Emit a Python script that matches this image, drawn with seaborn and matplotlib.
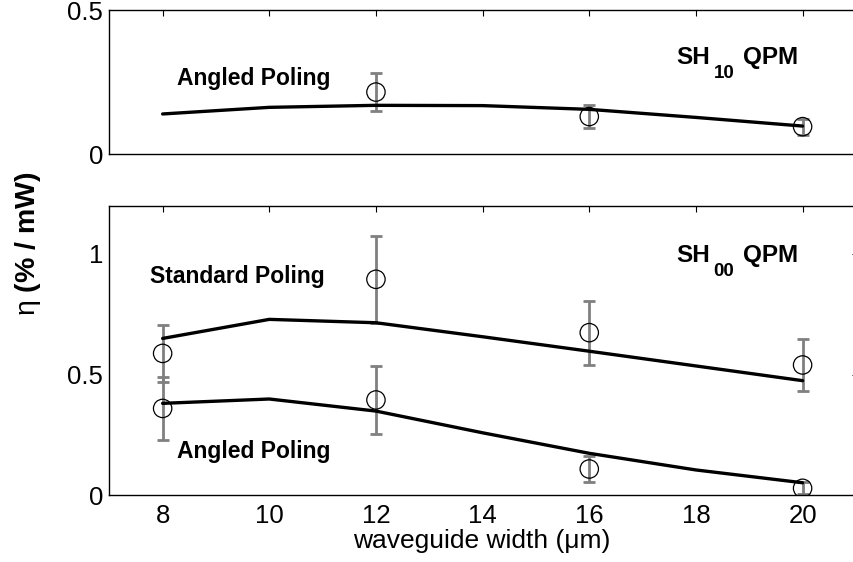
import matplotlib
matplotlib.use("Agg")
import matplotlib.pyplot as plt
import matplotlib.transforms as mtransforms
import seaborn as sns

# waveguide widths (um)
widths_model = [8, 10, 12, 14, 16, 18, 20]

# SH10 mode, angled poling
sh10_model = [0.139, 0.162, 0.169, 0.168, 0.155, 0.127, 0.097]
sh10_meas_x = [12, 16, 20]
sh10_meas = [0.215, 0.130, 0.095]
sh10_err = [0.066, 0.039, 0.028]

# SH00 mode, standard poling
std_model = [0.650, 0.729, 0.715, 0.657, 0.597, 0.536, 0.475]
std_meas_x = [8, 12, 16, 20]
std_meas = [0.588, 0.895, 0.674, 0.540]
std_err = [0.118, 0.180, 0.133, 0.108]

# SH00 mode, angled poling
ang_model = [0.381, 0.399, 0.349, 0.259, 0.174, 0.105, 0.052]
ang_meas_x = [8, 12, 16, 20]
ang_meas = [0.360, 0.395, 0.109, 0.029]
ang_err = [0.130, 0.140, 0.053, 0.025]

xticks = [8, 10, 12, 14, 16, 18, 20]

sns.set_style("white")
plt.rcParams["font.family"] = ["Liberation Sans", "DejaVu Sans"]
plt.rcParams["mathtext.fontset"] = "custom"
plt.rcParams["mathtext.rm"] = "Liberation Sans"
plt.rcParams["mathtext.it"] = "Liberation Sans:italic"
plt.rcParams["mathtext.bf"] = "Liberation Sans:bold"
plt.rcParams["text.color"] = "black"
plt.rcParams["axes.labelcolor"] = "black"
plt.rcParams["xtick.color"] = "black"
plt.rcParams["ytick.color"] = "black"

W, H = 854, 562
X_LEFT_PX, X_RIGHT_PX = 109.3, 858.0
fig = plt.figure(figsize=(W / 100, H / 100), dpi=100)
fig.patch.set_facecolor("white")

ax_w = (X_RIGHT_PX - X_LEFT_PX) / W
ax_top = fig.add_axes([X_LEFT_PX / W, 1 - 154 / H, ax_w, 144 / H])
ax_bot = fig.add_axes([X_LEFT_PX / W, 1 - 495.3 / H, ax_w, 289.6 / H])

ERR_COLOR = "#808080"


def draw_series(ax, model, mx, my, me):
    sns.lineplot(x=widths_model, y=model, ax=ax, color="black", lw=2.4,
                 zorder=3, legend=False)
    ax.errorbar(mx, my, yerr=me, fmt="none", ecolor=ERR_COLOR,
                elinewidth=2.0, capsize=4.6, capthick=2.0, zorder=2)
    sns.scatterplot(x=mx, y=my, ax=ax, marker="o", s=175,
                    facecolor="none", edgecolor="black", linewidth=0.9,
                    zorder=4, legend=False)


draw_series(ax_top, sh10_model, sh10_meas_x, sh10_meas, sh10_err)
draw_series(ax_bot, std_model, std_meas_x, std_meas, std_err)
draw_series(ax_bot, ang_model, ang_meas_x, ang_meas, ang_err)

x_max = 7 + (X_RIGHT_PX - X_LEFT_PX) / 53.33
for ax in (ax_top, ax_bot):
    ax.set_xlim(7, x_max)
    ax.set_xticks(xticks)
    for s in ax.spines.values():
        s.set_visible(True)
        s.set_color("black")
        s.set_linewidth(1.0)
    ax.tick_params(direction="in", length=4.4, width=0.8, top=True,
                   right=True, labelsize=18.5, colors="black", pad=4.5)
    ax.set_xlabel("")
    ax.set_ylabel("")

ax_top.set_ylim(0, 0.5)
ax_top.set_yticks([0, 0.5])
ax_top.set_yticklabels(["0", "0.5"])
ax_top.tick_params(labelbottom=False)

ax_bot.set_ylim(0, 1.2)
ax_bot.set_yticks([0, 0.5, 1])
ax_bot.set_yticklabels(["0", "0.5", "1"])
ax_bot.set_xticklabels([str(v) for v in xticks])
ax_bot.tick_params(axis="x", pad=6.5)

bold = dict(fontsize=16.5, fontweight="bold", ha="left", va="baseline")

ax_top.text(8.27, 0.24, "Angled Poling", **bold)
ax_bot.text(7.765, 0.879, "Standard Poling", **bold)
ax_bot.text(8.27, 0.153, "Angled Poling", **bold)


def mode_label(ax, x, y, sub):
    ax.text(x, y, "SH", fontsize=17.5, fontweight="bold", ha="left",
            va="baseline")
    t_sub = mtransforms.offset_copy(ax.transData, fig=fig, x=37, y=-14,
                                    units="dots")
    ax.text(x, y, sub, fontsize=13.5, fontweight="bold", ha="left",
            va="baseline", transform=t_sub)
    t_q = mtransforms.offset_copy(ax.transData, fig=fig, x=66, y=0,
                                  units="dots")
    ax.text(x, y, "QPM", fontsize=17.5, fontweight="bold", ha="left",
            va="baseline", transform=t_q)


mode_label(ax_top, 17.64, 0.3125, "10")
mode_label(ax_bot, 17.64, 0.967, "00")

fig.text(482 / W, 1 - 541 / H, "waveguide width (\u03bcm)", fontsize=19,
         ha="center", va="center")
fig.text(28 / W, 1 - 244 / H, r"$\mathrm{\eta}$ (% / mW)", fontsize=20.5,
         fontweight="bold", rotation=90, ha="center", va="center")

fig.savefig("out.png", dpi=100, facecolor="white")
